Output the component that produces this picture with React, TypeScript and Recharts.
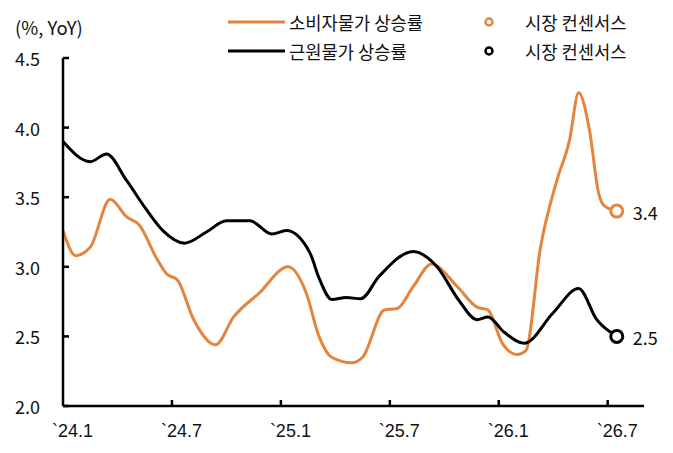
import { ComposedChart, Line, Scatter, XAxis, YAxis } from "recharts";

const ORANGE = "#E3843F";
const FONT = "'Noto Sans CJK KR', 'Noto Sans', sans-serif";
const TICK_FONT = "'Liberation Sans', Arial, sans-serif";

// months since `24.1
const xTicks = [0, 6, 12, 18, 24, 30];
const xTickLabels = ["`24.1", "`24.7", "`25.1", "`25.7", "`26.1", "`26.7"];
const yTicks = [2.0, 2.5, 3.0, 3.5, 4.0, 4.5];

const cpiMonths = [
  0, 0.7, 1.5, 2.6, 3.5, 4.2, 5.2, 5.7, 6.3, 7.2, 8.4, 9.4, 10.8, 12.4, 13.4,
  14.1, 14.8, 15.9, 16.5, 17.7, 18.4, 19.3, 20.3, 21.7, 22.8, 23.4, 24.2, 25.0,
  25.5, 26.3, 27.2, 27.9, 28.4, 29.0, 29.5, 29.8, 30.5,
];
const cpiValues = [
  3.26, 3.08, 3.14, 3.485, 3.36, 3.3, 3.05, 2.95, 2.905, 2.62, 2.44, 2.64, 2.81,
  3.0, 2.81, 2.5, 2.35, 2.31, 2.35, 2.69, 2.7, 2.86, 3.02, 2.86, 2.71, 2.69,
  2.45, 2.37, 2.4, 3.14, 3.62, 3.91, 4.25, 3.98, 3.53, 3.44, 3.4,
];

const coreMonths = [
  0, 1.5, 2.4, 3.5, 4.6, 5.5, 6.7, 7.9, 9.0, 10.3, 11.5, 12.3, 13.6, 14.1, 14.8,
  15.6, 16.4, 17.4, 19.3, 20.6, 21.8, 22.8, 23.4, 24.3, 25.4, 27.0, 28.4, 29.4,
  30.5,
];
const coreValues = [
  3.9, 3.755, 3.81, 3.62, 3.41, 3.26, 3.17, 3.25, 3.33, 3.33, 3.235, 3.26, 3.1,
  2.92, 2.765, 2.78, 2.77, 2.93, 3.11, 3.0, 2.76, 2.62, 2.64, 2.53, 2.45, 2.67,
  2.845, 2.62, 2.5,
];

const consensusMonth = 30.5;
const cpiConsensus = 3.4;
const coreConsensus = 2.5;

const cpiData = cpiMonths.map((m, i) => ({ m, v: cpiValues[i] }));
const coreData = coreMonths.map((m, i) => ({ m, v: coreValues[i] }));

function YTick({ x, y, payload }: any) {
  return (
    <g>
      <line x1={x} x2={x + 6} y1={y} y2={y} stroke="#000" strokeWidth={2.5} />
      <text
        x={x - 23}
        y={y}
        textAnchor="end"
        dominantBaseline="central"
        fontSize={18}
        fontFamily={FONT}
        fill="#111"
      >
        {payload.value.toFixed(1)}
      </text>
    </g>
  );
}

function XTick({ x, y, payload }: any) {
  const idx = xTicks.indexOf(payload.value);
  return (
    <g>
      {payload.value !== 0 && (
        <line x1={x} x2={x} y1={y} y2={y - 6} stroke="#000" strokeWidth={2.5} />
      )}
      <text x={x - 11} y={y + 31} fontSize={18} fontFamily={TICK_FONT} fill="#111">
        {xTickLabels[idx]}
      </text>
    </g>
  );
}

function consensusShape(color: string, value: number) {
  return (props: any) => {
    const { cx, cy } = props;
    return (
      <g>
        <circle cx={cx} cy={cy} r={6} fill="#fff" stroke={color} strokeWidth={3} />
        <text
          x={cx + 16}
          y={cy + 1}
          dominantBaseline="central"
          fontSize={18}
          fontFamily={FONT}
          fill="#111"
        >
          {value.toFixed(1)}
        </text>
      </g>
    );
  };
}

function LegendOverlay() {
  return (
    <svg
      width={673}
      height={70}
      style={{ position: "absolute", left: 0, top: 0, pointerEvents: "none" }}
    >
      <text x={15} y={27} dominantBaseline="central" fontSize={18.5} fontFamily={FONT} fill="#111">
        (%, YoY)
      </text>
      <line x1={228} x2={285} y1={22} y2={22} stroke={ORANGE} strokeWidth={3} />
      <text x={289} y={22} dominantBaseline="central" fontSize={17.7} fontFamily={FONT} fill="#111">
        소비자물가 상승률
      </text>
      <line x1={228} x2={285} y1={51} y2={51} stroke="#000" strokeWidth={3} />
      <text x={289} y={51} dominantBaseline="central" fontSize={17.7} fontFamily={FONT} fill="#111">
        근원물가 상승률
      </text>
      <circle cx={489} cy={22} r={3.5} fill="#fff" stroke={ORANGE} strokeWidth={2.5} />
      <text x={525} y={22} dominantBaseline="central" fontSize={17.7} fontFamily={FONT} fill="#111">
        시장 컨센서스
      </text>
      <circle cx={489} cy={51} r={3.5} fill="#fff" stroke="#000" strokeWidth={2.5} />
      <text x={525} y={51} dominantBaseline="central" fontSize={17.7} fontFamily={FONT} fill="#111">
        시장 컨센서스
      </text>
    </svg>
  );
}

export default function App() {
  return (
    <div
      style={{
        position: "absolute",
        left: 0,
        top: 0,
        width: 673,
        height: 453,
        background: "#fff",
      }}
    >
      <ComposedChart
        width={673}
        height={453}
        margin={{ top: 58, right: 29, bottom: 0, left: 0 }}
      >
        <XAxis
          type="number"
          dataKey="m"
          domain={[0, 32]}
          ticks={xTicks}
          height={47}
          tickSize={0}
          tickMargin={0}
          tickLine={false}
          axisLine={{ stroke: "#000", strokeWidth: 2.5 }}
          tick={<XTick />}
        />
        <YAxis
          type="number"
          domain={[2, 4.5]}
          ticks={yTicks}
          width={63}
          tickSize={0}
          tickMargin={0}
          tickLine={false}
          axisLine={{ stroke: "#000", strokeWidth: 2.5 }}
          tick={<YTick />}
        />
        <Line
          data={cpiData}
          dataKey="v"
          type="monotone"
          stroke={ORANGE}
          strokeWidth={3}
          dot={false}
          activeDot={false}
          isAnimationActive={false}
        />
        <Line
          data={coreData}
          dataKey="v"
          type="monotone"
          stroke="#000"
          strokeWidth={3}
          dot={false}
          activeDot={false}
          isAnimationActive={false}
        />
        <Scatter
          data={[{ m: consensusMonth, v: cpiConsensus }]}
          dataKey="v"
          shape={consensusShape(ORANGE, cpiConsensus)}
          isAnimationActive={false}
        />
        <Scatter
          data={[{ m: consensusMonth, v: coreConsensus }]}
          dataKey="v"
          shape={consensusShape("#000", coreConsensus)}
          isAnimationActive={false}
        />
      </ComposedChart>
      <LegendOverlay />
    </div>
  );
}
